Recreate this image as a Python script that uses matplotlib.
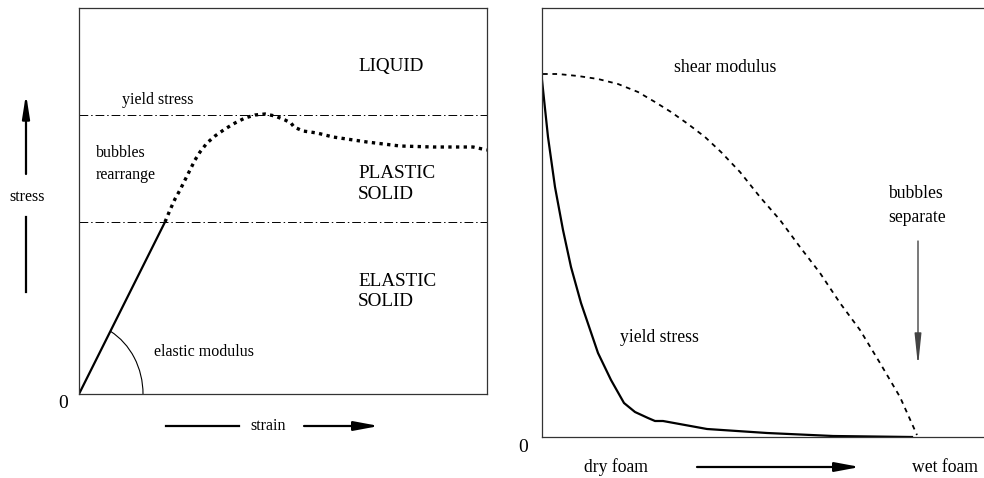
import matplotlib
matplotlib.use("Agg")
import matplotlib.pyplot as plt
from matplotlib.patches import Arc

plt.rcParams['font.family'] = ['Liberation Serif', 'DejaVu Serif']

# left panel: stress vs strain (box units, origin bottom-left)
elastic_strain = [0, 86]
elastic_stress = [0, 172]
plastic_strain = [86, 91, 96, 101, 106, 111, 116, 121, 128, 136, 146, 156, 166, 176, 186,
                  196, 206, 212, 215, 224, 238, 254, 288, 321, 354, 381, 394, 408]
plastic_stress = [172, 184, 195, 204, 214, 224, 234, 242, 251, 258, 265, 271, 276, 279, 280,
                  278, 274, 271, 267, 263, 261, 257, 252, 248, 247, 247, 247, 244]
yield_level = 279
elastic_limit = 172

# right panel: moduli vs liquid fraction (box units)
shear_x = [1, 16, 36, 56, 76, 96, 113, 129, 146, 163, 179, 198, 218, 238, 258, 278,
           298, 318, 338, 358, 375]
shear_y = [363, 363, 361, 358, 353, 345, 335, 325, 313, 300, 285, 265, 240, 217, 190, 164,
           134, 107, 74, 40, 2]
yield_x = [0, 6, 13, 21, 29, 39, 56, 69, 82, 93, 106, 113, 121, 165, 225, 291, 370]
yield_y = [357, 300, 250, 207, 170, 134, 84, 57, 34, 25, 19, 16, 16, 8, 4, 1, 0]

W, H = 984, 478
fig = plt.figure(figsize=(W / 100, H / 100), dpi=100)

big = 13.8
small = 11.5
small_r = 12.7

# ---------------- left panel
ax1 = fig.add_axes([79 / W, (H - 394) / H, 408 / W, 386 / H])
ax1.set_xlim(0, 408)
ax1.set_ylim(0, 386)
ax1.set_xticks([])
ax1.set_yticks([])
for s in ax1.spines.values():
    s.set_linewidth(0.9)
    s.set_color('#333333')

ax1.plot(elastic_strain, elastic_stress, color='black', lw=1.6, solid_capstyle='butt')
ax1.plot(plastic_strain, plastic_stress, color='black', lw=2.4, ls=(0, (1, 1.3)))
for lvl in [yield_level, elastic_limit]:
    ax1.axhline(lvl, color='black', lw=0.7, ls=(0, (9, 3, 1.5, 3)))
ax1.add_patch(Arc((0, 0), 128, 144, theta1=0, theta2=63.4, color='black', lw=0.8))

ax1.text(279, 327, 'LIQUID', fontsize=big, ha='left', va='center')
ax1.text(279, 220, 'PLASTIC', fontsize=big, ha='left', va='center')
ax1.text(279, 199, 'SOLID', fontsize=big, ha='left', va='center')
ax1.text(279, 113, 'ELASTIC', fontsize=big, ha='left', va='center')
ax1.text(279, 92, 'SOLID', fontsize=big, ha='left', va='center')
ax1.text(43, 294, 'yield stress', fontsize=small, ha='left', va='center')
ax1.text(17, 241, 'bubbles', fontsize=small, ha='left', va='center')
ax1.text(17, 219, 'rearrange', fontsize=small, ha='left', va='center')
ax1.text(75, 42, 'elastic modulus', fontsize=small, ha='left', va='center')
ax1.text(-16, -9, '0', fontsize=14, ha='center', va='center')

# stress axis label with arrow
ax1.text(-52, 197, 'stress', fontsize=small, ha='center', va='center')
ax1.plot([-53, -53], [102, 177], color='black', lw=1.6, clip_on=False)
ax1.annotate('', xy=(-53, 300), xytext=(-53, 220), annotation_clip=False,
             arrowprops=dict(arrowstyle='-|>,head_length=1.4,head_width=0.22',
                             mutation_scale=10, color='black', lw=1.6, shrinkA=0, shrinkB=0))
# strain axis label with arrow
ax1.text(189, -32, 'strain', fontsize=small, ha='center', va='center')
ax1.plot([87, 160], [-32, -32], color='black', lw=1.6, clip_on=False)
ax1.annotate('', xy=(300, -32), xytext=(225, -32), annotation_clip=False,
             arrowprops=dict(arrowstyle='-|>,head_length=1.5,head_width=0.28',
                             mutation_scale=10, color='black', lw=1.6, shrinkA=0, shrinkB=0))

# ---------------- right panel
ax2 = fig.add_axes([542 / W, (H - 437) / H, 442 / W, 429 / H])
ax2.set_xlim(0, 442)
ax2.set_ylim(0, 429)
ax2.set_xticks([])
ax2.set_yticks([])
for s in ax2.spines.values():
    s.set_linewidth(0.9)
    s.set_color('#333333')
ax2.spines['right'].set_visible(False)

ax2.plot(shear_x, shear_y, color='black', lw=1.3, ls=(0, (2.6, 2.6)))
ax2.plot(yield_x, yield_y, color='black', lw=1.6)

ax2.text(183, 369, 'shear modulus', fontsize=small_r, ha='center', va='center')
ax2.text(117, 100, 'yield stress', fontsize=small_r, ha='center', va='center')
ax2.text(346, 244, 'bubbles', fontsize=small_r, ha='left', va='center')
ax2.text(346, 220, 'separate', fontsize=small_r, ha='left', va='center')
ax2.annotate('', xy=(376, 71), xytext=(376, 196), annotation_clip=False,
             arrowprops=dict(arrowstyle='-|>,head_length=1.9,head_width=0.2',
                             mutation_scale=10, color='#444444', lw=1.0, shrinkA=0, shrinkB=0))
ax2.text(-19, -10, '0', fontsize=14, ha='center', va='center')
ax2.text(74, -30, 'dry foam', fontsize=small_r, ha='center', va='center')
ax2.text(403, -30, 'wet foam', fontsize=small_r, ha='center', va='center')
ax2.annotate('', xy=(318, -30), xytext=(155, -30), annotation_clip=False,
             arrowprops=dict(arrowstyle='-|>,head_length=1.5,head_width=0.28',
                             mutation_scale=10, color='black', lw=1.6, shrinkA=0, shrinkB=0))

fig.savefig('out.png', dpi=100)
